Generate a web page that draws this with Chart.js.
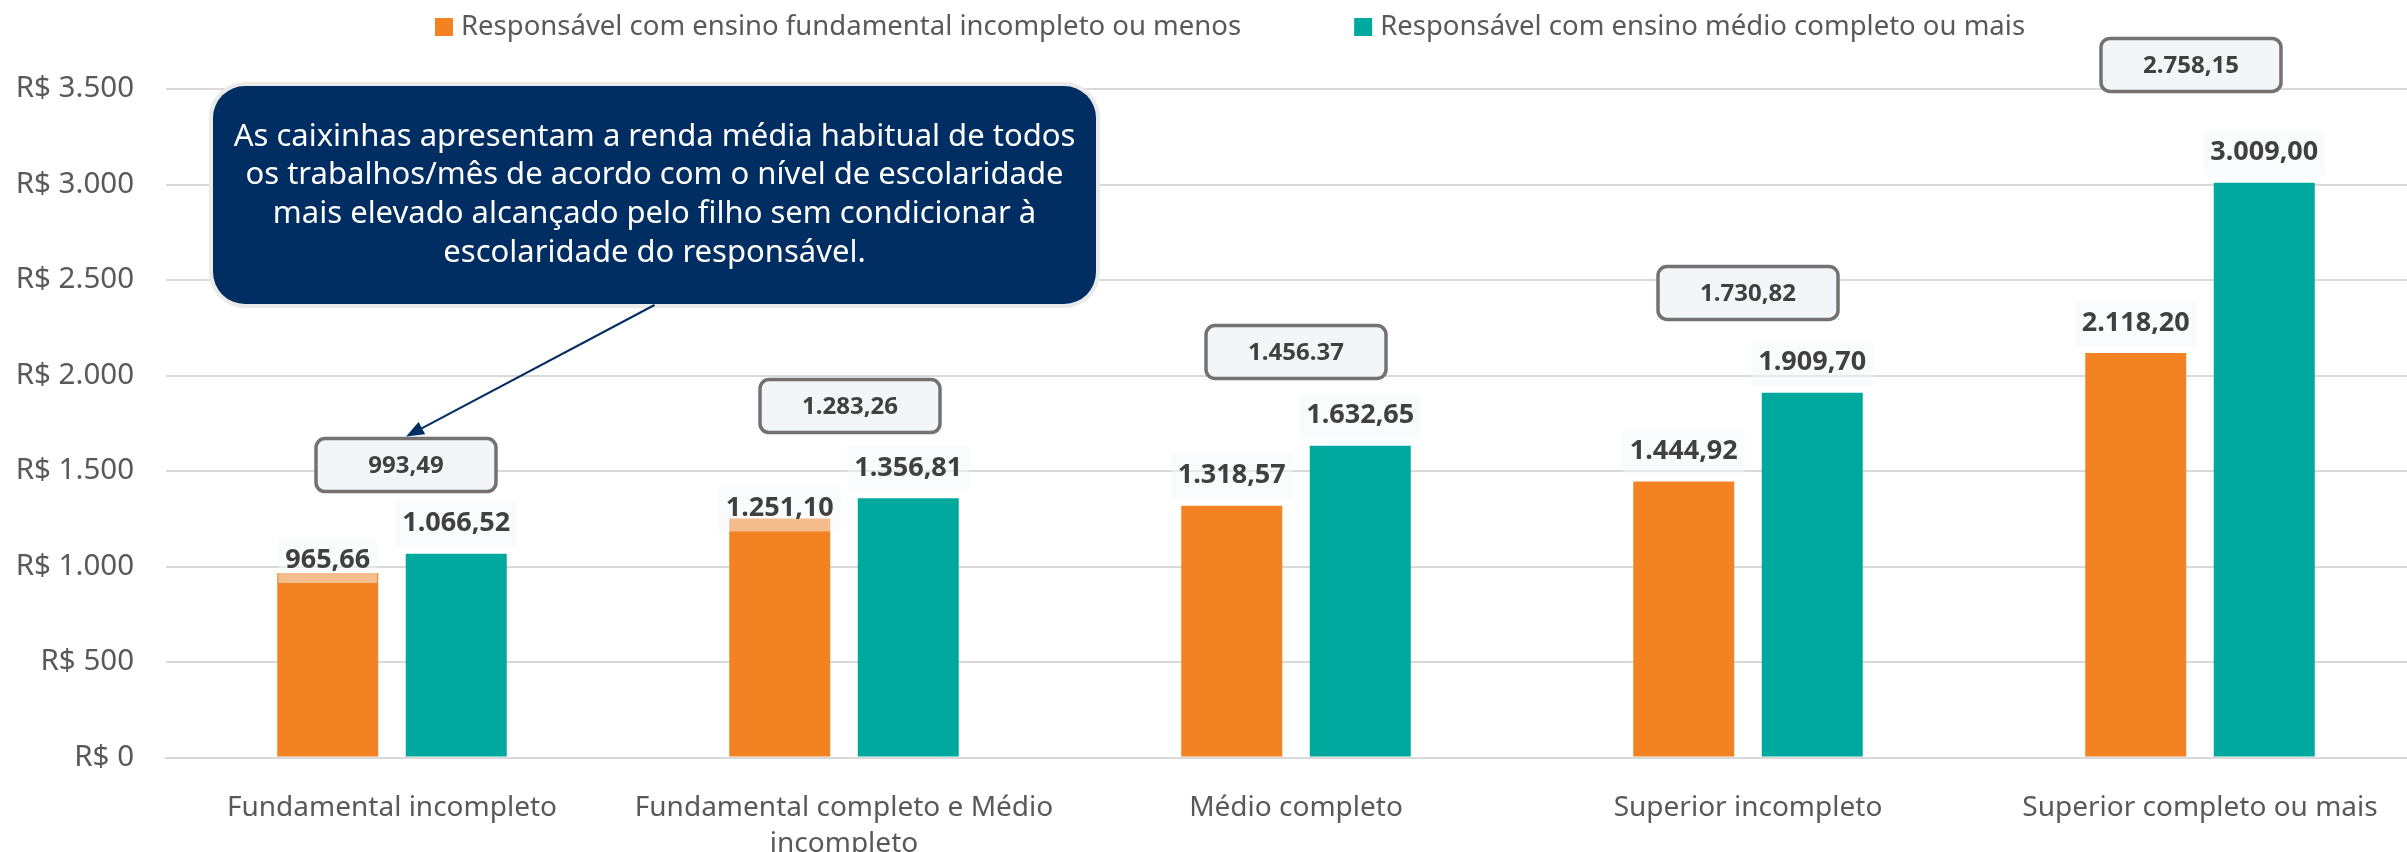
<!DOCTYPE html>
<html>
<head>
<meta charset="utf-8">
<script src="https://cdn.jsdelivr.net/npm/chart.js@4.4.1/dist/chart.umd.min.js"></script>
<style>
  html, body { margin: 0; padding: 0; overflow: hidden; background: #fff; }
</style>
</head>
<body>
<canvas id="myChart" width="2460" height="852"></canvas>
<script>
var categories = ["Fundamental incompleto", ["Fundamental completo e Médio", "incompleto"], "Médio completo", "Superior incompleto", "Superior completo ou mais"];
var seriesNames = ["Responsável com ensino fundamental incompleto ou menos", "Responsável com ensino médio completo ou mais"];
var lowerEdu = [965.66, 1251.10, 1318.57, 1444.92, 2118.20];
var higherEdu = [1066.52, 1356.81, 1632.65, 1909.70, 3009.00];
var overallLabels = ["993,49", "1.283,26", "1.456.37", "1.730,82", "2.758,15"];
var calloutLines = [
  "As caixinhas apresentam a renda média habitual de todos",
  "os trabalhos/mês de acordo com o nível de escolaridade",
  "mais elevado alcançado pelo filho sem condicionar à",
  "escolaridade do responsável."
];

var orange = "#F28222";
var teal = "#00A99D";
var navy = "#002D62";
var grey = "#595959";
var font = "'Noto Sans', sans-serif";

function fmt(v, dec) {
  var p = v.toFixed(dec).split(".");
  var s = p[0].replace(/\B(?=(\d{3})+(?!\d))/g, ".");
  return dec ? s + "," + p[1] : s;
}

function roundRect(ctx, x, y, w, h, r) {
  ctx.beginPath();
  ctx.moveTo(x + r, y);
  ctx.arcTo(x + w, y, x + w, y + h, r);
  ctx.arcTo(x + w, y + h, x, y + h, r);
  ctx.arcTo(x, y + h, x, y, r);
  ctx.arcTo(x, y, x + w, y, r);
  ctx.closePath();
}

// value labels above bars (with faint background box)
var valueLabels = {
  id: "valueLabels",
  afterDatasetsDraw: function(chart, args, opts) {
    var ctx = chart.ctx;
    ctx.save();
    ctx.font = "bold 27px " + font;
    ctx.textAlign = "center";
    ctx.textBaseline = "middle";
    chart.data.datasets.forEach(function(ds, di) {
      chart.getDatasetMeta(di).data.forEach(function(bar, i) {
        var lift = opts.lift[di][i];
        var y = bar.y - lift;
        var txt = fmt(ds.data[i], 2);
        var w = ctx.measureText(txt).width + 14;
        ctx.fillStyle = "rgba(246,248,250,0.5)";
        ctx.fillRect(bar.x - w / 2, y - 22, w, 45);
        ctx.fillStyle = "#404040";
        ctx.fillText(txt, bar.x, y);
      });
    });
    ctx.restore();
  }
};

// boxes with overall average + callout + legend
var extras = {
  id: "extras",
  afterDraw: function(chart, args, opts) {
    var ctx = chart.ctx;
    var xs = chart.scales.x, ys = chart.scales.y, area = chart.chartArea;
    ctx.save();
    var tips = [];
    overallLabels.forEach(function(t, i) {
      var cx = xs.getPixelForValue(i) + opts.boxShift[i];
      var cy = ys.getPixelForValue(opts.boxLevel[i]);
      var w = 180, h = 53;
      roundRect(ctx, cx - w / 2, cy - h / 2, w, h, 9);
      ctx.fillStyle = "#F3F6F9";
      ctx.fill();
      ctx.lineWidth = 3.5;
      ctx.strokeStyle = "#767171";
      ctx.stroke();
      ctx.fillStyle = "#404040";
      ctx.font = "bold 24px " + font;
      ctx.textAlign = "center";
      ctx.textBaseline = "middle";
      ctx.fillText(t, cx, cy + 1);
      tips.push({ x: cx, y: cy - h / 2 - 2 });
    });

    // callout
    var c = opts.callout;
    var bx = area.left + c.left, by = area.top + c.top;
    roundRect(ctx, bx, by, c.width, c.height, 32);
    ctx.lineWidth = 8;
    ctx.strokeStyle = "#EAEAEA";
    ctx.stroke();
    ctx.fillStyle = navy;
    ctx.fill();
    ctx.fillStyle = "#fff";
    ctx.font = "31px " + font;
    ctx.textAlign = "center";
    ctx.textBaseline = "middle";
    var midx = bx + c.width / 2;
    calloutLines.forEach(function(l, i) {
      ctx.fillText(l, midx, by + c.height / 2 + (i - 1.5) * 38.7);
    });

    // arrow from callout to first box
    var sx = midx, sy = by + c.height + 1;
    var ex = tips[0].x, ey = tips[0].y;
    var ang = Math.atan2(ey - sy, ex - sx);
    ctx.strokeStyle = navy;
    ctx.fillStyle = navy;
    ctx.lineWidth = 2;
    ctx.beginPath();
    ctx.moveTo(sx, sy);
    ctx.lineTo(ex - 14 * Math.cos(ang), ey - 14 * Math.sin(ang));
    ctx.stroke();
    ctx.beginPath();
    ctx.moveTo(ex, ey);
    ctx.lineTo(ex - 18 * Math.cos(ang) + 7 * Math.sin(ang), ey - 18 * Math.sin(ang) - 7 * Math.cos(ang));
    ctx.lineTo(ex - 18 * Math.cos(ang) - 7 * Math.sin(ang), ey - 18 * Math.sin(ang) + 7 * Math.cos(ang));
    ctx.closePath();
    ctx.fill();

    // legend
    ctx.font = "27.5px " + font;
    ctx.textAlign = "left";
    ctx.textBaseline = "middle";
    var cols = [orange, teal];
    var widths = seriesNames.map(function(n) { return ctx.measureText(n).width; });
    var total = 17 + 9 + widths[0] + 113 + 17 + 9 + widths[1];
    var x = chart.width / 2 - total / 2;
    seriesNames.forEach(function(n, i) {
      ctx.fillStyle = cols[i];
      ctx.fillRect(x, 18, 18, 18);
      ctx.fillStyle = grey;
      ctx.fillText(n, x + 26, 27);
      x += 26 + widths[i] + 113;
    });
    ctx.restore();
  }
};

new Chart("myChart", {
  type: "bar",
  data: {
    labels: categories,
    datasets: [{
      label: seriesNames[0],
      data: lowerEdu,
      backgroundColor: orange
    }, {
      label: seriesNames[1],
      data: higherEdu,
      backgroundColor: teal
    }]
  },
  options: {
    responsive: false,
    animation: false,
    devicePixelRatio: 1,
    categoryPercentage: 0.5686,
    barPercentage: 0.786,
    layout: { padding: { left: 12, right: 34, top: 89, bottom: 0 } },
    scales: {
      x: {
        grid: { display: false },
        border: { display: true, color: "#D9D9D9", width: 2 },
        ticks: {
          color: grey,
          padding: 24,
          maxRotation: 0,
          font: { family: font, size: 28, lineHeight: 1.31 }
        },
        afterFit: function(s) { s.height = 94.5; }
      },
      y: {
        min: 0,
        max: 3500,
        grid: { color: "#D9D9D9", lineWidth: 2, drawTicks: false },
        border: { display: false },
        ticks: {
          stepSize: 500,
          color: grey,
          padding: 32,
          font: { family: font, size: 29.5 },
          callback: function(v) { return "R$ " + fmt(v, 0); }
        },
        afterFit: function(s) { s.width = 154; }
      }
    },
    plugins: {
      legend: { display: false },
      tooltip: { enabled: false },
      valueLabels: {
        lift: [[13, 10, 30, 30, 30], [30, 30, 30, 30, 30]]
      },
      extras: {
        boxLevel: [1531, 1840, 2123, 2432, 3626],
        boxShift: [14, 6, 0, 0, -9],
        callout: { left: 47, top: -3, width: 883, height: 218 }
      }
    }
  },
  plugins: [valueLabels, extras]
});
</script>
</body>
</html>
